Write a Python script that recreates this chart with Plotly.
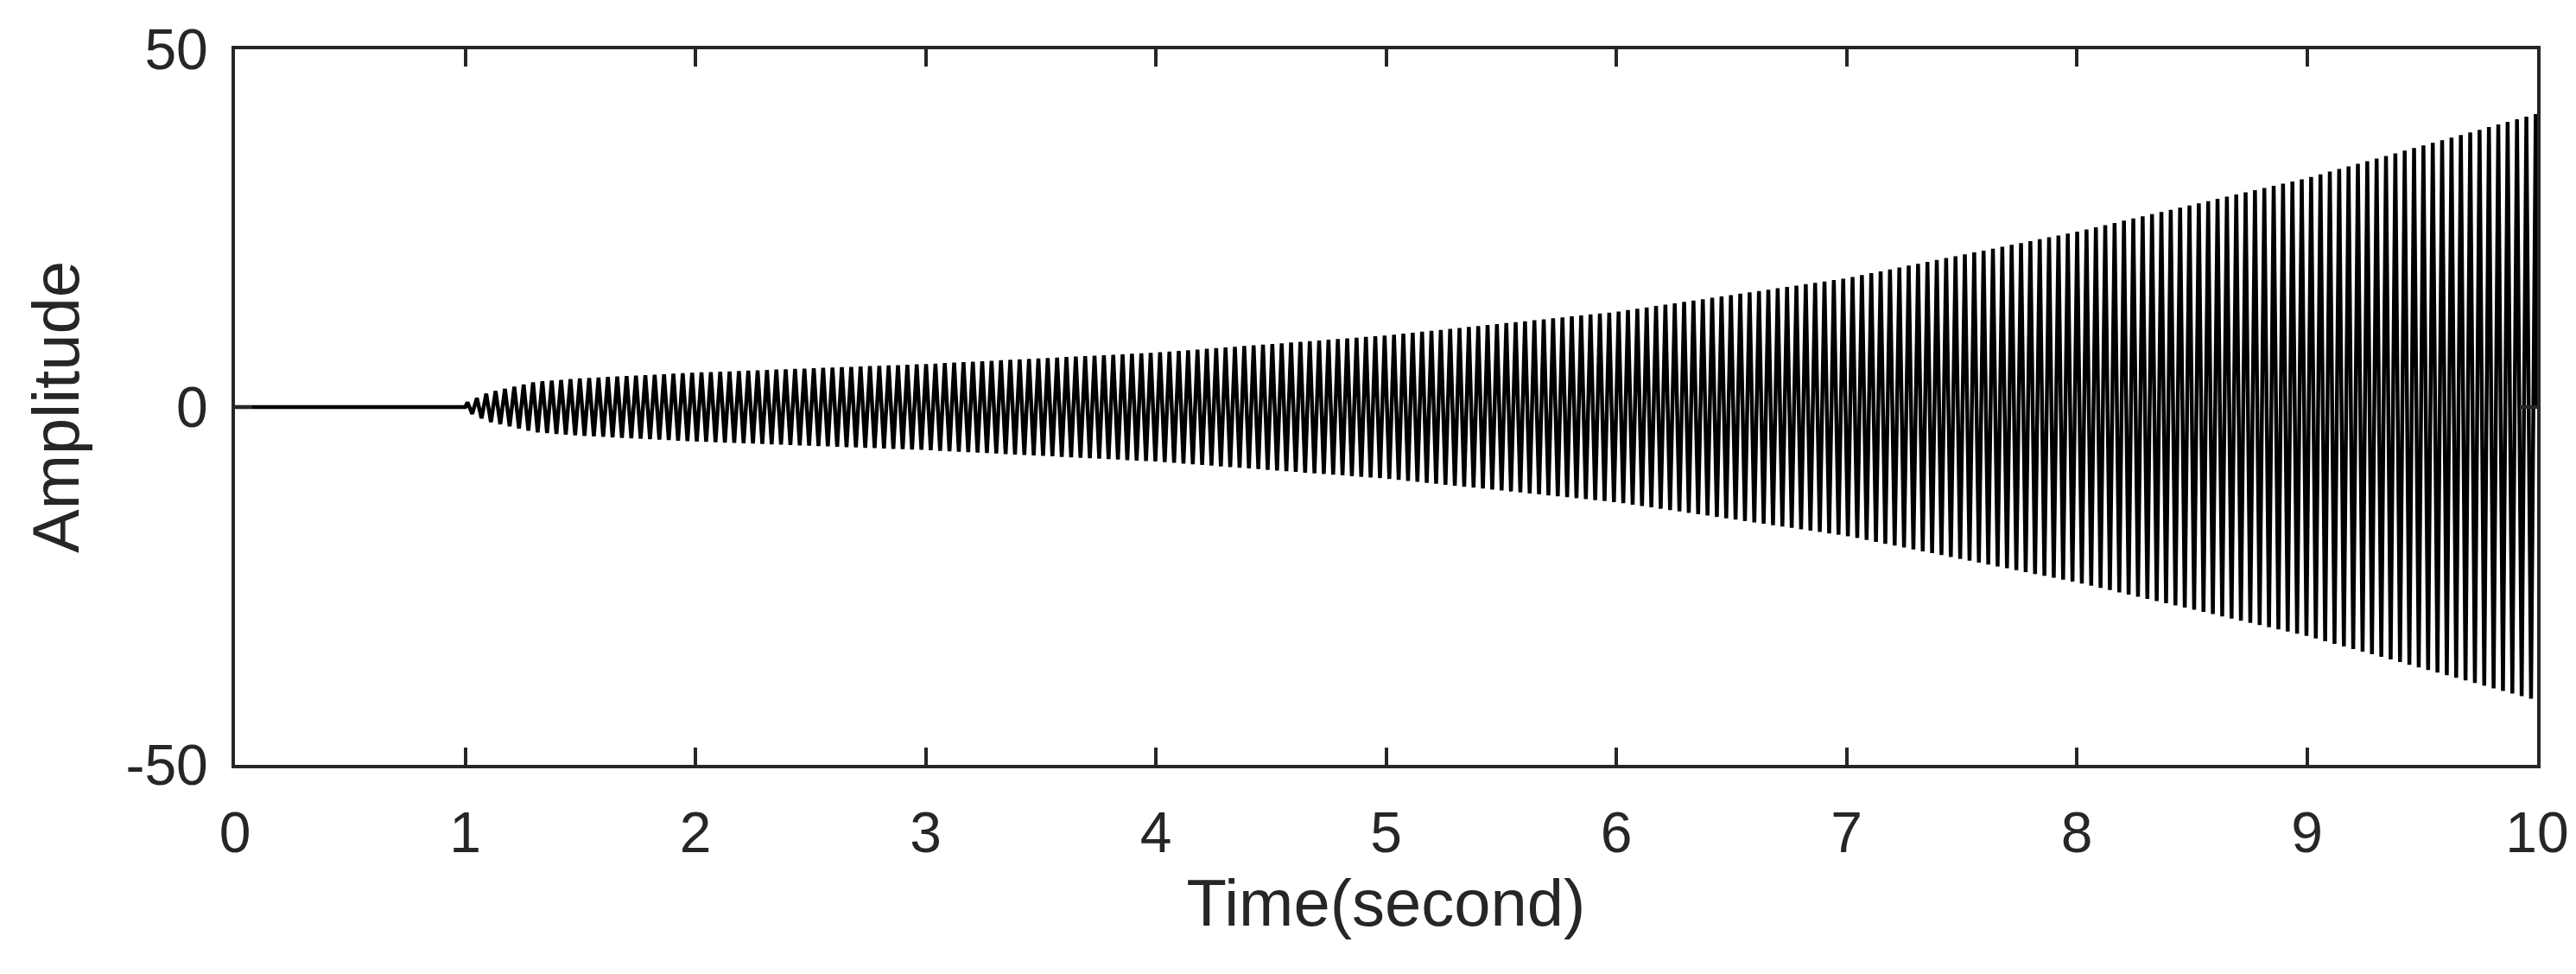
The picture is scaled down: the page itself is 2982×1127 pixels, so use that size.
import numpy as np
import plotly.graph_objects as go

# Envelope (peak amplitude) at these times (s)
env_t = [1.0, 1.1, 1.3, 1.5, 2.0, 3.0, 4.0, 5.0, 6.0, 7.0, 8.0, 9.0, 10.0]
env_a = [0.5, 2.0, 3.5, 4.0, 4.8, 6.0, 7.6, 10.0, 13.3, 18.0, 24.5, 32.0, 41.0]
carrier_hz = 24.6
onset_t = 1.0
x_ticks = [0, 1, 2, 3, 4, 5, 6, 7, 8, 9, 10]
y_ticks = [-50, 0, 50]
y_labels = ["-50", "0", "50"]

# Extremes of the oscillation (alternating peaks/troughs)
half = 1.0 / (2 * carrier_hz)
pk_t = np.arange(onset_t + half / 2, 10.0, half)
sign = np.where(np.arange(len(pk_t)) % 2 == 0, 1.0, -1.0)
pk_v = sign * np.interp(pk_t, env_t, env_a)
t = np.concatenate([[0.0, onset_t], pk_t, [10.0]])
y = np.concatenate([[0.0, 0.0], pk_v, [0.0]])

FONT = "Liberation Sans, Arial"
fig = go.Figure(go.Scatter(x=t, y=y, mode="lines",
                           line=dict(color="black", width=4.5), hoverinfo="skip"))
ax = dict(showline=True, linecolor="#262626", linewidth=4, mirror="ticks",
          ticks="inside", ticklen=20, tickwidth=4, tickcolor="#262626",
          showgrid=False, zeroline=False,
          tickfont=dict(family=FONT, size=66, color="#262626"))
fig.update_xaxes(range=[0, 10], tickvals=x_ticks, ticklabelstandoff=18, **ax,
                 title=dict(text="Time(second)", standoff=20,
                            font=dict(family=FONT, size=76, color="#262626")))
fig.update_yaxes(range=[-50, 50], tickvals=y_ticks, ticktext=y_labels,
                 ticklabelstandoff=14, **ax,
                 title=dict(text="Amplitude", standoff=30,
                            font=dict(family=FONT, size=76, color="#262626")))
fig.update_layout(width=2982, height=1127, plot_bgcolor="white", paper_bgcolor="white",
                  margin=dict(l=264, r=53, t=42, b=250), showlegend=False)
fig.write_html("out.html")
